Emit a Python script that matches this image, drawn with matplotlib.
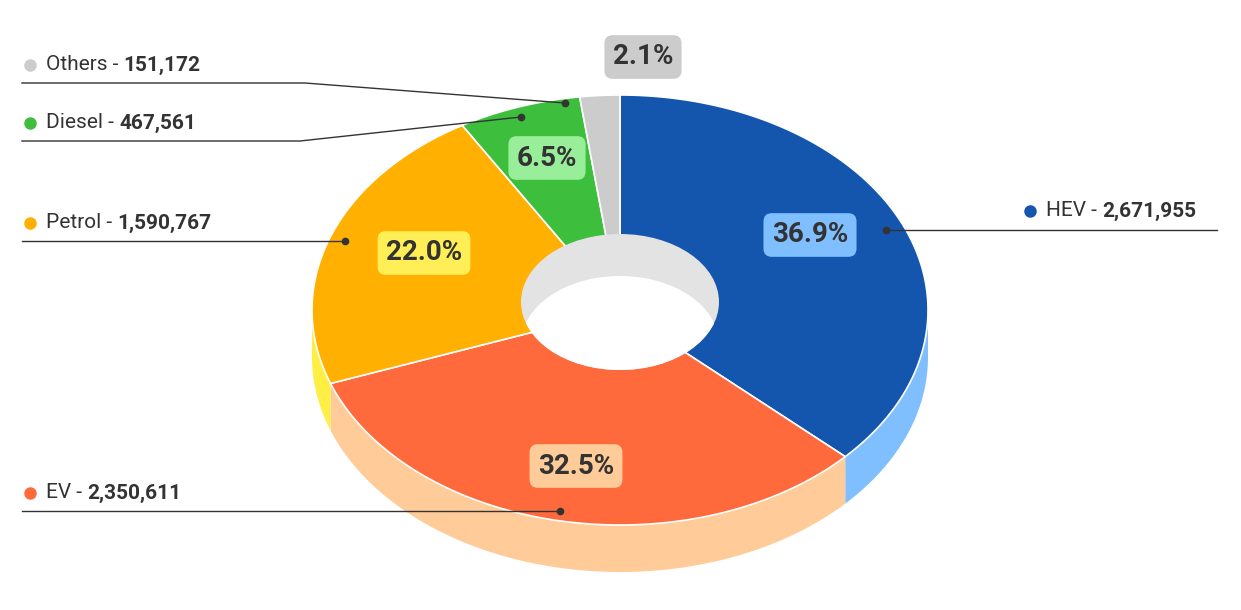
import numpy as np
import matplotlib.pyplot as plt
from matplotlib.patches import Polygon, Ellipse

labels = ["HEV", "EV", "Petrol", "Diesel", "Others"]
values = [2671955, 2350611, 1590767, 467561, 151172]
pct_text = ["36.9%", "32.5%", "22.0%", "6.5%", "2.1%"]
top_colors = ["#1455ad", "#ff6a3d", "#ffb000", "#3dbf3d", "#cccccc"]
side_colors = ["#7fbfff", "#ffcc99", "#ffee44", "#2a9a2a", "#aaaaaa"]
box_colors = ["#7fbfff", "#ffcc99", "#ffee55", "#99ee99", "#cccccc"]

plt.rcParams['font.family'] = ['Roboto', 'DejaVu Sans']

fig = plt.figure(figsize=(12.41, 6.10), dpi=100)
ax = fig.add_axes([0, 0, 1, 1])
ax.set_xlim(0, 1241)
ax.set_ylim(610, 0)
ax.axis('off')

cx, cy, a, b, depth = 620, 310, 308, 215, 47


def edge(t0, t1, n=200):
    t = np.radians(np.linspace(t0, t1, n))
    return np.column_stack([cx + a * np.cos(t), cy - b * np.sin(t)])


fracs = np.array(values) / sum(values)
starts = 90 - 360 * np.concatenate([[0], np.cumsum(fracs)[:-1]])
ends = starts - 360 * fracs

# side walls
for s, e, col in zip(starts, ends, side_colors):
    lo, hi = max(e, -180), min(s, 0)
    if lo < hi:
        top = edge(hi, lo)
        bot = top[::-1] + [0, depth]
        ax.add_patch(Polygon(np.vstack([top, bot]), closed=True, fc=col, ec='none'))

# top wedges
for s, e, col in zip(starts, ends, top_colors):
    pts = np.vstack([[cx, cy], edge(s, e)])
    ax.add_patch(Polygon(pts, closed=True, fc=col, ec='white', lw=1.2))

# hole
hx, hy, ha, hb, hd = 620, 302, 99, 68, 42
gray = Ellipse((hx, hy), 2 * ha, 2 * hb, fc='#e3e3e3', ec='none')
ax.add_patch(gray)
white = Ellipse((hx, hy + hd), 2 * ha, 2 * hb, fc='white', ec='none')
ax.add_patch(white)
white.set_clip_path(gray)

# percent boxes
box_pos = [(810, 235), (576, 466), (424, 253), (547, 158), (643, 57)]
for (x, y), t, c in zip(box_pos, pct_text, box_colors):
    ax.text(x, y, t, ha='center', va='center', fontsize=20, fontweight='bold',
            color='#333333',
            bbox=dict(boxstyle='round,pad=0.3,rounding_size=0.3', fc=c, ec='none'))

# leader lines and labels
leaders = {
    "Others": [(22, 83), (305, 83), (565, 103)],
    "Diesel": [(22, 141), (300, 141), (521, 117)],
    "Petrol": [(22, 241), (345, 241)],
    "EV": [(22, 511), (560, 511)],
    "HEV": [(1217, 230), (886, 230)],
}
label_pos = {"Others": (30, 65), "Diesel": (30, 123), "Petrol": (30, 223),
             "EV": (30, 493), "HEV": (1030, 211)}
for name, v, col in zip(labels, values, top_colors):
    pts = np.array(leaders[name])
    ax.plot(pts[:, 0], pts[:, 1], color='#333333', lw=1)
    ax.plot(*pts[-1], 'o', color='#333333', ms=4.5)
    x, y = label_pos[name]
    ax.plot(x, y, 'o', color=col, ms=8)
    ax.text(x + 16, y, f"{name} - ", ha='left', va='center', fontsize=15,
            color='#333333')
    ax.annotate(f"{v:,}", xy=(1, 0.5), xycoords=ax.texts[-1], ha='left',
                va='center', fontsize=15, fontweight='bold', color='#333333')

fig.savefig('out.png', dpi=100)
